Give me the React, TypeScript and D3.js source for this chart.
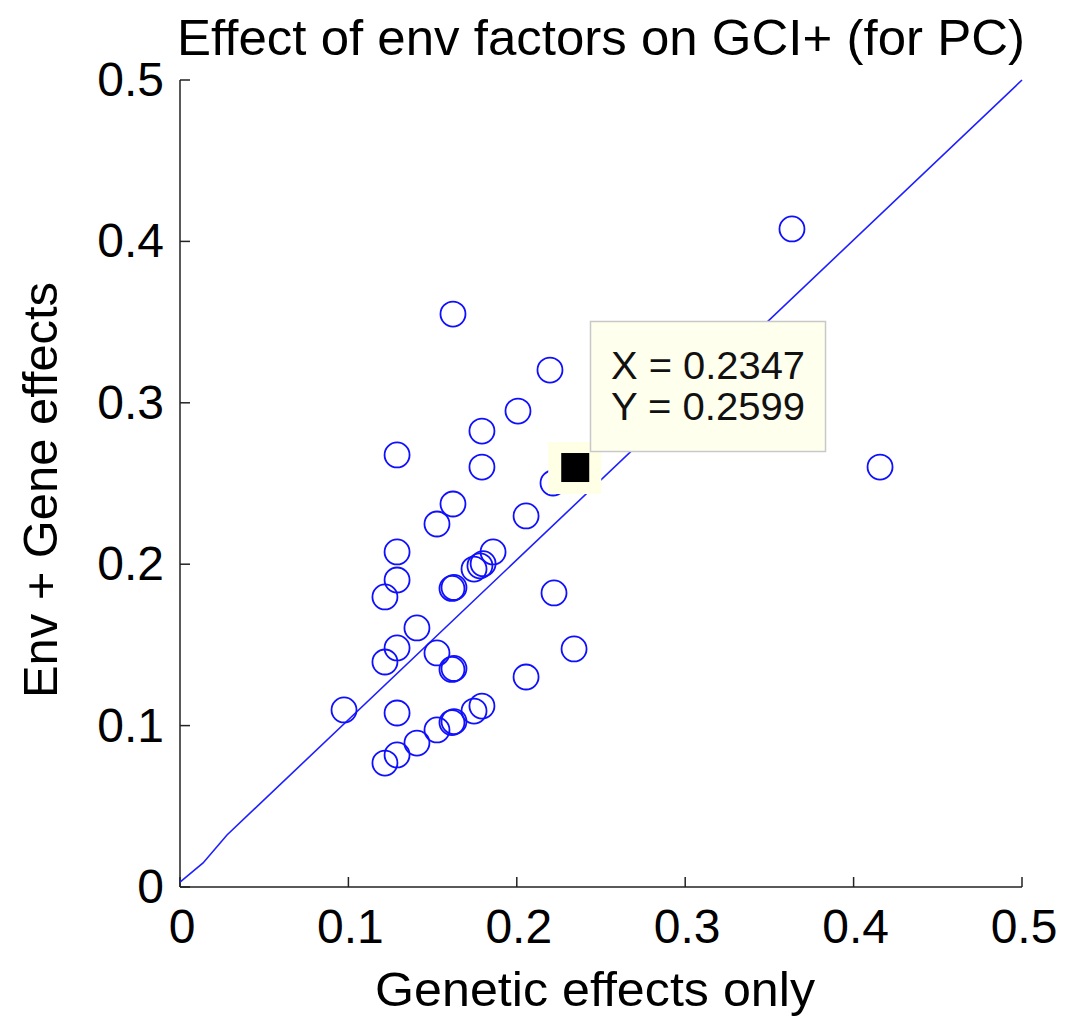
import React from "react";
import * as d3 from "d3";

const title = "Effect of env factors on GCI+ (for PC)";
const xLabel = "Genetic effects only";
const yLabel = "Env + Gene effects";

const xTicks = [0, 0.1, 0.2, 0.3, 0.4, 0.5];
const yTicks = [0, 0.1, 0.2, 0.3, 0.4, 0.5];

// Genetic effects only (x) and Env + Gene effects (y)
const genX = [
  0.1621, 0.2197, 0.2007, 0.1793, 0.1289, 0.1793, 0.2215, 0.1621, 0.1526, 0.2055,
  0.1289, 0.1859, 0.1746, 0.1781, 0.1800, 0.1289, 0.1217, 0.1615, 0.1627, 0.2221,
  0.1407, 0.1289, 0.1217, 0.1526, 0.1615, 0.1627, 0.2340, 0.2055, 0.0974, 0.1289,
  0.1793, 0.1746, 0.1615, 0.1627, 0.1526, 0.1407, 0.1289, 0.1217, 0.3634, 0.4157,
  0.2347,
];
const envY = [
  0.3550, 0.3203, 0.2949, 0.2825, 0.2677, 0.2602, 0.2503, 0.2373, 0.2249, 0.2299,
  0.2076, 0.2076, 0.1970, 0.1990, 0.2003, 0.1902, 0.1797, 0.1850, 0.1856, 0.1822,
  0.1605, 0.1481, 0.1394, 0.1450, 0.1348, 0.1354, 0.1475, 0.1301, 0.1097, 0.1078,
  0.1121, 0.1090, 0.1019, 0.1025, 0.0973, 0.0892, 0.0818, 0.0768, 0.4077, 0.2602,
  0.2599,
];

// reference line (x, y)
const lineX = [0, 0.0137, 0.0279, 0.5];
const lineY = [0.003, 0.0149, 0.0322, 0.5];

// data tip
const tipX = 0.2347;
const tipY = 0.2599;
const tipLines = ["X = 0.2347", "Y = 0.2599"];

const FONT = "'Liberation Sans', Arial, Helvetica, sans-serif";

export default function App() {
  const W = 1074;
  const H = 1018;
  const left = 180, right = 1022, top = 80, bottom = 887;
  const x = d3.scaleLinear().domain([0, 0.5]).range([left, right]);
  const y = d3.scaleLinear().domain([0, 0.5]).range([bottom, top]);

  const lineData = lineX.map((v, i) => [v, lineY[i]] as [number, number]);
  const linePath = d3
    .line<[number, number]>()
    .x((d) => x(d[0]))
    .y((d) => y(d[1]))(lineData);

  const tx = x(tipX);
  const ty = y(tipY);
  const axisColor = "#222";

  return (
    <svg
      width={W}
      height={H}
      style={{ position: "absolute", left: 0, top: 0, background: "#fff" }}
      fontFamily={FONT}
    >
      <rect x={0} y={0} width={W} height={H} fill="#fff" />
      <text
        x={601}
        y={55}
        fontSize={50}
        textAnchor="middle"
        fill="#000"
        textLength={848}
        lengthAdjust="spacingAndGlyphs"
      >
        {title}
      </text>

      {/* axes */}
      <line x1={left} x2={left} y1={top} y2={bottom} stroke={axisColor} strokeWidth={1.5} />
      <line x1={left} x2={right} y1={bottom} y2={bottom} stroke={axisColor} strokeWidth={1.5} />
      {xTicks.map((t) => (
        <g key={"xt" + t}>
          <line x1={x(t)} x2={x(t)} y1={bottom} y2={bottom - 10} stroke={axisColor} strokeWidth={1.5} />
          <text x={x(t) + 2} y={943} fontSize={48} textAnchor="middle" fill="#000">
            {String(t)}
          </text>
        </g>
      ))}
      {yTicks.map((t) => (
        <g key={"yt" + t}>
          <line x1={left} x2={left + 10} y1={y(t)} y2={y(t)} stroke={axisColor} strokeWidth={1.5} />
          <text x={164} y={y(t) + 16} fontSize={48} textAnchor="end" fill="#000">
            {String(t)}
          </text>
        </g>
      ))}

      <text x={595} y={1006} fontSize={49} textAnchor="middle" fill="#000" textLength={440} lengthAdjust="spacingAndGlyphs">
        {xLabel}
      </text>
      <text
        transform={`translate(57,490) rotate(-90)`}
        fontSize={49}
        textAnchor="middle"
        fill="#000"
        textLength={416}
        lengthAdjust="spacingAndGlyphs"
      >
        {yLabel}
      </text>

      {/* reference line */}
      <path d={linePath ?? ""} fill="none" stroke="#1f1fff" strokeWidth={1.6} />

      {/* points */}
      {genX.map((v, i) => (
        <circle
          key={"p" + i}
          cx={x(v)}
          cy={y(envY[i])}
          r={12.5}
          fill="none"
          stroke="#1010ff"
          strokeWidth={1.8}
        />
      ))}

      {/* data tip marker */}
      <rect x={tx - 27} y={ty - 25.5} width={53} height={52} fill="#ffffe6" />
      <rect x={tx - 14} y={ty - 14.5} width={28} height={29} fill="#000" />

      {/* data tip box */}
      <rect x={590.5} y={321.5} width={235} height={130} fill="#ffffee" stroke="#c8c8c8" strokeWidth={1.5} />
      {tipLines.map((s, i) => (
        <text
          key={"tl" + i}
          x={611}
          y={379 + i * 41}
          fontSize={39}
          fill="#111"
          textLength={194}
          lengthAdjust="spacingAndGlyphs"
        >
          {s}
        </text>
      ))}
    </svg>
  );
}
